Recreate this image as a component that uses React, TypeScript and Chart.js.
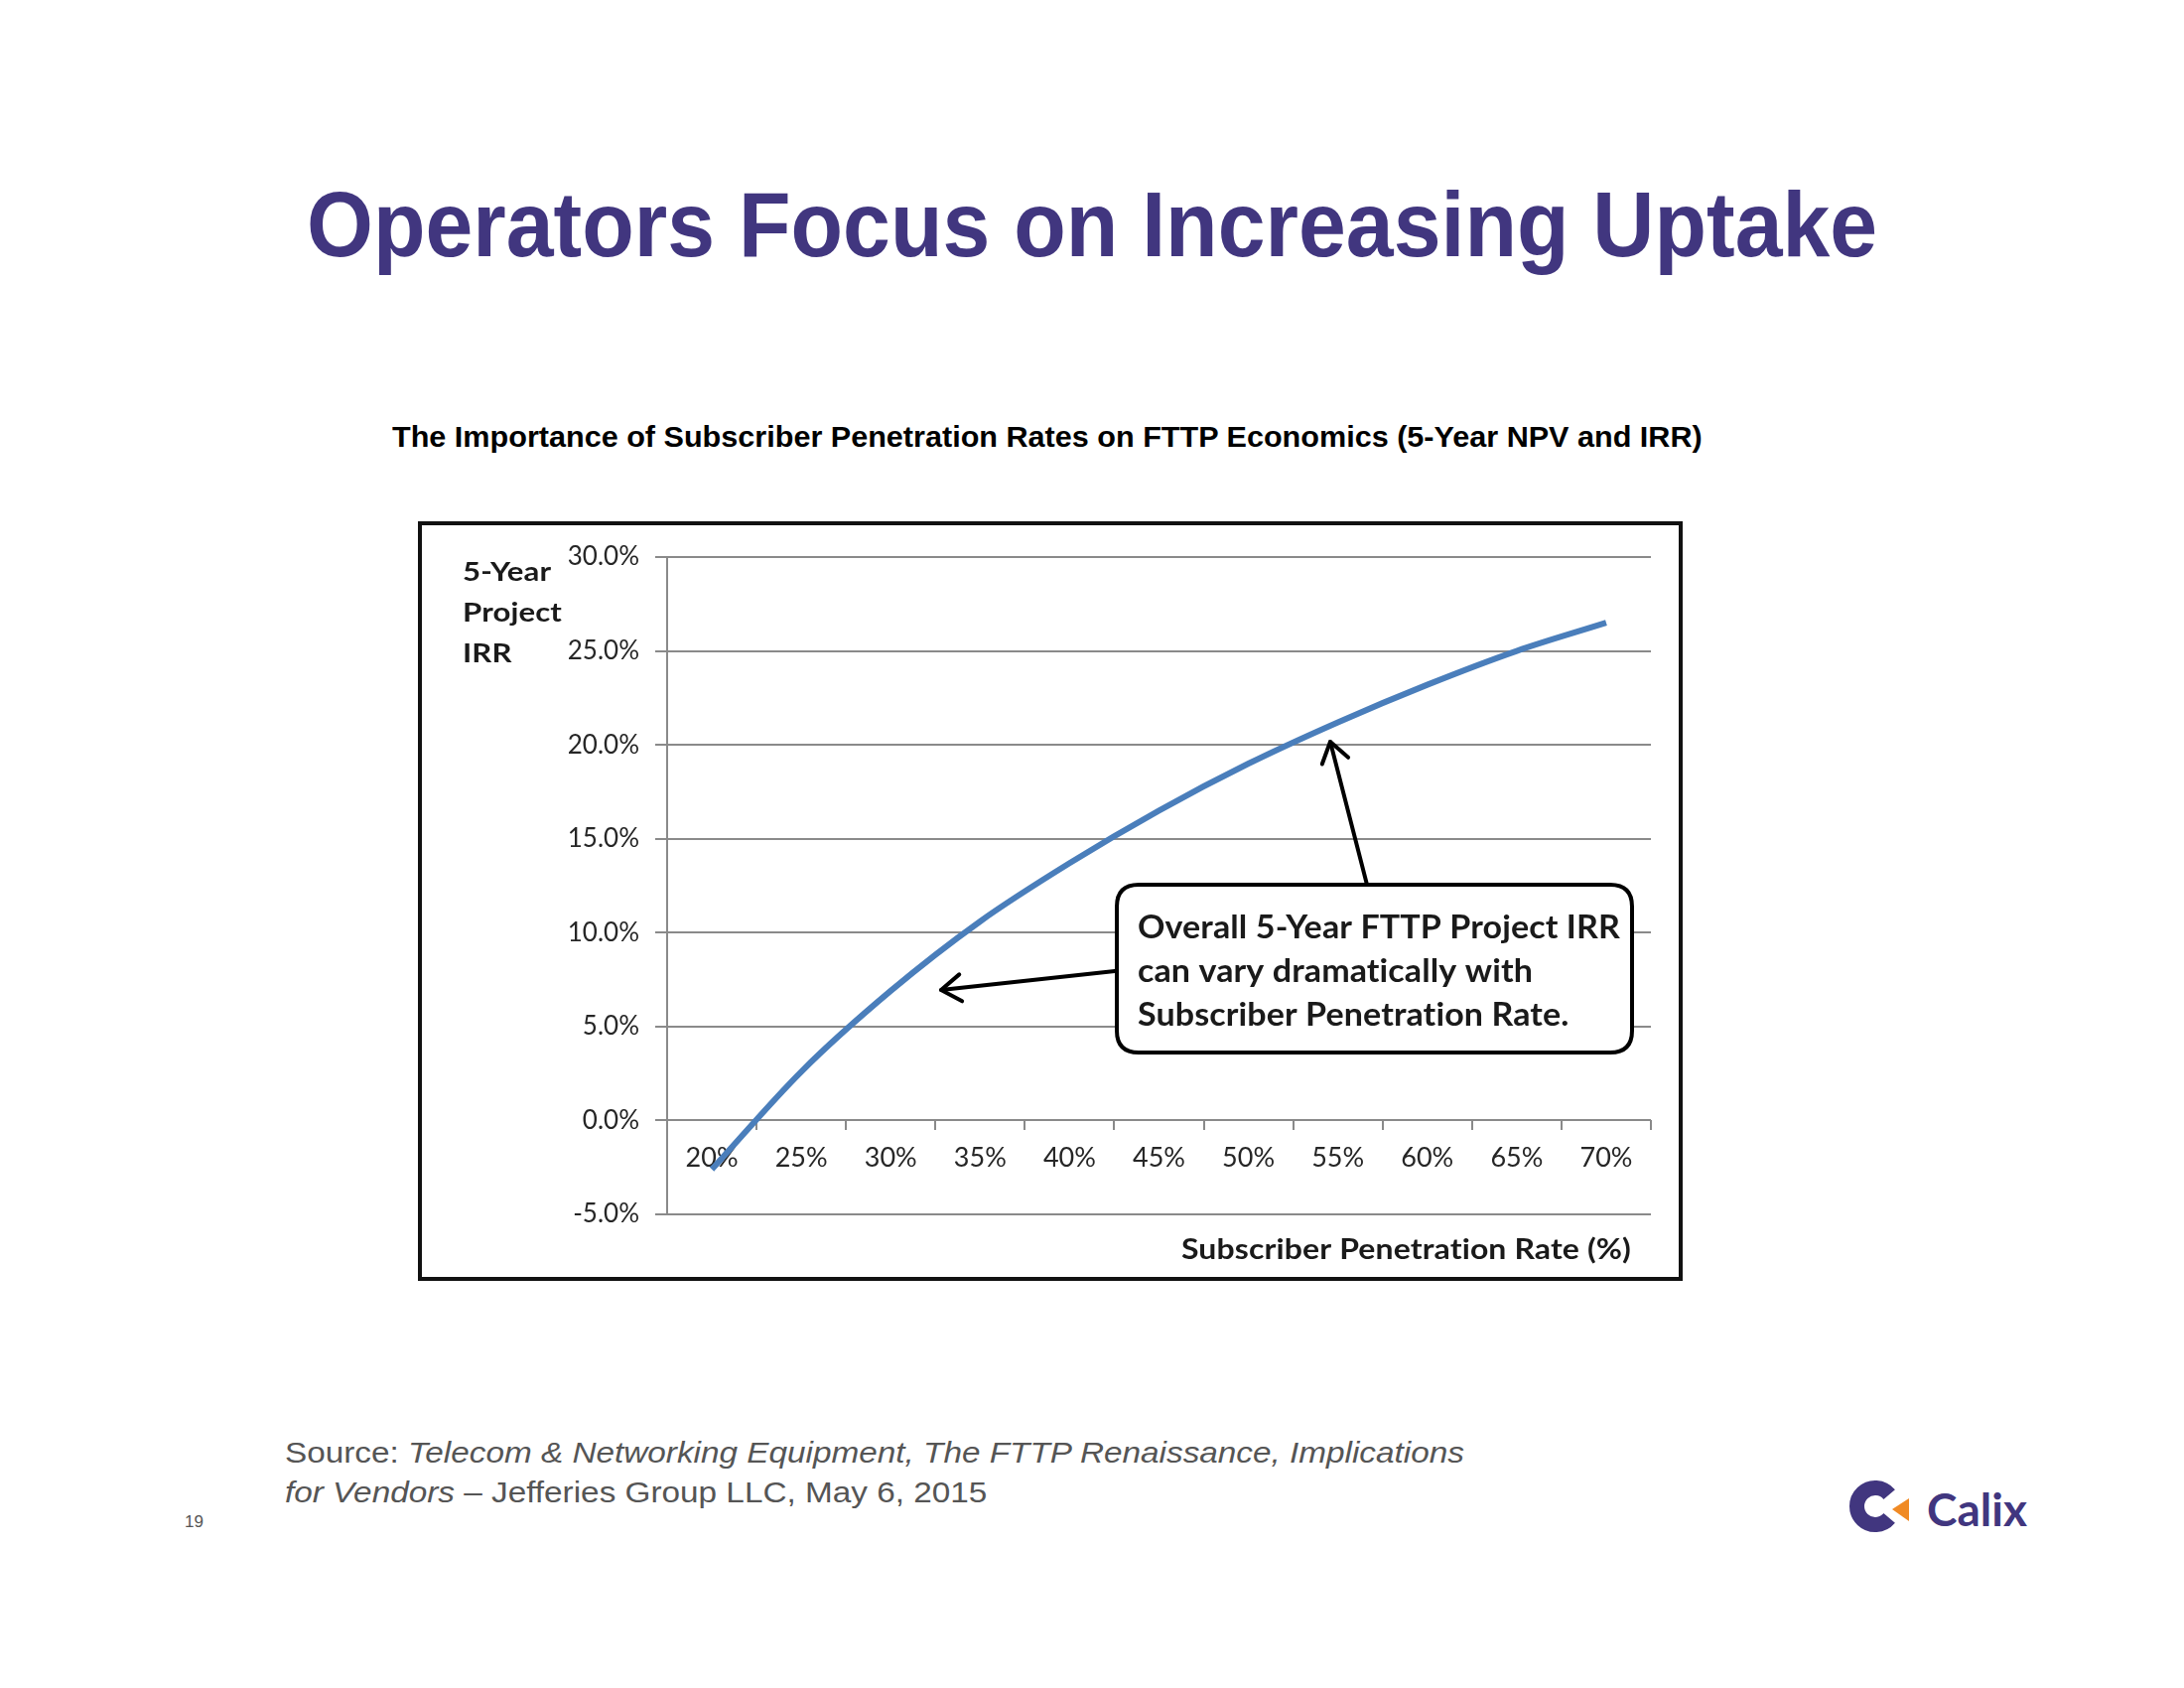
import React, { useEffect, useLayoutEffect, useRef } from 'react';
import { Chart, registerables } from 'chart.js';

Chart.register(...registerables);

// ---------- data ----------
const categories = ['20%', '25%', '30%', '35%', '40%', '45%', '50%', '55%', '60%', '65%', '70%'];
const irrValues = [-2.6, 2.6, 6.9, 10.6, 13.7, 16.5, 19.0, 21.2, 23.2, 25.0, 26.5];
const yMin = -5;
const yMax = 30;
const yStep = 5;
const yAxisTitleLines = ['5-Year', 'Project', 'IRR'];
const xAxisTitle = 'Subscriber Penetration Rate (%)';
const calloutLines = ['Overall 5-Year FTTP Project IRR', 'can vary dramatically with', 'Subscriber Penetration Rate.'];
const pageTitle = 'Operators Focus on Increasing Uptake';
const chartTitle = 'The Importance of Subscriber Penetration Rates on FTTP Economics (5-Year NPV and IRR)';

const PURPLE = '#41367F';
const CAL = 'Lato, "Open Sans", sans-serif';
const HEL = '"Liberation Sans", Arial, Helvetica, sans-serif';

function drawScaled(ctx: CanvasRenderingContext2D, text: string, x: number, y: number, s: number, align: 'left' | 'right') {
  const w = ctx.measureText(text).width;
  ctx.save();
  ctx.translate(x, y);
  ctx.scale(s, 1);
  ctx.textAlign = 'left';
  ctx.fillText(text, align === 'right' ? -w : 0, 0);
  ctx.restore();
}

function drawArrow(ctx: CanvasRenderingContext2D, x1: number, y1: number, x2: number, y2: number) {
  const ang = Math.atan2(y2 - y1, x2 - x1);
  const len = 24;
  const spread = 0.6;
  ctx.save();
  ctx.strokeStyle = '#000';
  ctx.lineWidth = 4;
  ctx.lineCap = 'round';
  ctx.lineJoin = 'round';
  ctx.beginPath();
  ctx.moveTo(x1, y1);
  ctx.lineTo(x2, y2);
  ctx.stroke();
  ctx.beginPath();
  ctx.moveTo(x2 - len * Math.cos(ang - spread), y2 - len * Math.sin(ang - spread));
  ctx.lineTo(x2, y2);
  ctx.lineTo(x2 - len * Math.cos(ang + spread), y2 - len * Math.sin(ang + spread));
  ctx.stroke();
  ctx.restore();
}

const annotationPlugin = {
  id: 'irrAnnotations',
  afterDraw(chart: any) {
    const ctx: CanvasRenderingContext2D = chart.ctx;
    ctx.save();
    (ctx as any).letterSpacing = '0.1px';
    ctx.fillStyle = '#1a1a1a';
    ctx.textBaseline = 'alphabetic';

    // y-axis title
    ctx.font = `bold 26px ${CAL}`;
    const sY = 100 / ctx.measureText('Project').width;
    yAxisTitleLines.forEach((t, i) => drawScaled(ctx, t, 41, 56 + i * 41, sY, 'left'));

    // x-axis title
    ctx.font = `bold 28px ${CAL}`;
    const sX = 453 / ctx.measureText(xAxisTitle).width;
    drawScaled(ctx, xAxisTitle, 1218, 739, sX, 'right');

    // arrows
    drawArrow(ctx, 952, 362, 915, 218);
    drawArrow(ctx, 698, 449, 523, 468);

    // callout box
    const bx = 700, by = 362, bw = 519, bh = 169, r = 22;
    ctx.beginPath();
    ctx.moveTo(bx + r, by);
    ctx.lineTo(bx + bw - r, by);
    ctx.quadraticCurveTo(bx + bw, by, bx + bw, by + r);
    ctx.lineTo(bx + bw, by + bh - r);
    ctx.quadraticCurveTo(bx + bw, by + bh, bx + bw - r, by + bh);
    ctx.lineTo(bx + r, by + bh);
    ctx.quadraticCurveTo(bx, by + bh, bx, by + bh - r);
    ctx.lineTo(bx, by + r);
    ctx.quadraticCurveTo(bx, by, bx + r, by);
    ctx.closePath();
    ctx.fillStyle = '#fff';
    ctx.fill();
    ctx.lineWidth = 4;
    ctx.strokeStyle = '#000';
    ctx.stroke();

    ctx.fillStyle = '#1a1a1a';
    ctx.font = `bold 32px ${CAL}`;
    const sC = 486 / ctx.measureText(calloutLines[0]).width;
    calloutLines.forEach((t, i) => drawScaled(ctx, t, 721, 416 + i * 44, sC, 'left'));
    ctx.restore();
  },
};

function IrrChart() {
  const ref = useRef<HTMLCanvasElement>(null);
  useEffect(() => {
    if (!ref.current) return;
    const chart = new Chart(ref.current, {
      type: 'line',
      data: {
        labels: categories,
        datasets: [
          {
            label: '5-Year Project IRR',
            data: irrValues,
            borderColor: '#4A7EBB',
            backgroundColor: '#4A7EBB',
            borderWidth: 6,
            pointRadius: 0,
            cubicInterpolationMode: 'monotone',
            fill: false,
          },
        ],
      },
      options: {
        responsive: false,
        animation: false,
        layout: { padding: { left: 0, top: 32, right: 28, bottom: 63 } },
        plugins: { legend: { display: false }, tooltip: { enabled: false }, title: { display: false } },
        scales: {
          y: {
            type: 'linear',
            min: yMin,
            max: yMax,
            afterFit: (s: any) => {
              s.width = 247;
            },
            ticks: {
              stepSize: yStep,
              padding: 16,
              color: '#262626',
              font: { family: CAL, size: 26 },
              callback: (v: any) => Number(v).toFixed(1) + '%',
            },
            grid: { color: '#8a8a8a', lineWidth: 2, tickLength: 12, drawTicks: true },
            border: { display: true, color: '#8a8a8a', width: 2 },
          },
          x: {
            type: 'category',
            position: { y: 0 } as any,
            offset: true,
            ticks: {
              padding: 12,
              color: '#262626',
              font: { family: CAL, size: 27 },
              maxRotation: 0,
              autoSkip: false,
            },
            grid: { offset: true, drawOnChartArea: false, drawTicks: true, tickLength: 10, color: '#8a8a8a', lineWidth: 2 },
            border: { display: false },
          },
        },
      },
      plugins: [annotationPlugin],
    } as any);
    let alive = true;
    if ((document as any).fonts?.ready) {
      (document as any).fonts.ready.then(() => {
        if (alive) chart.update();
      });
    }
    return () => {
      alive = false;
      chart.destroy();
    };
  }, []);
  return <canvas ref={ref} width={1266} height={757} style={{ position: 'absolute', left: 0, top: 0, width: 1266, height: 757 }} />;
}

function FitLine(props: {
  left: number;
  top: number;
  width: number;
  centered?: boolean;
  fontSize: number;
  fontFamily: string;
  fontWeight?: string | number;
  color: string;
  children: React.ReactNode;
}) {
  const ref = useRef<HTMLSpanElement>(null);
  useLayoutEffect(() => {
    const fit = () => {
      const el = ref.current;
      if (!el) return;
      const w = el.offsetWidth;
      if (w > 0) el.style.transform = `scaleX(${props.width / w})`;
    };
    fit();
    (document as any).fonts?.ready?.then(fit);
  }, []);
  const x = props.centered ? props.left - props.width / 2 : props.left;
  return (
    <div
      style={{
        position: 'absolute',
        left: x,
        top: props.top,
        whiteSpace: 'nowrap',
        fontSize: props.fontSize,
        lineHeight: 1,
        fontFamily: props.fontFamily,
        fontWeight: props.fontWeight ?? 'normal',
        color: props.color,
      }}
    >
      <span ref={ref} style={{ display: 'inline-block', transformOrigin: '0 0' }}>
        {props.children}
      </span>
    </div>
  );
}

function SourceBlock() {
  const l1 = useRef<HTMLSpanElement>(null);
  const l2 = useRef<HTMLSpanElement>(null);
  useLayoutEffect(() => {
    const fit = () => {
      if (!l1.current || !l2.current) return;
      const w = l1.current.offsetWidth;
      if (w > 0) {
        const s = 1188 / w;
        l1.current.style.transform = `scaleX(${s})`;
        l2.current.style.transform = `scaleX(${s})`;
      }
    };
    fit();
    (document as any).fonts?.ready?.then(fit);
  }, []);
  const base: React.CSSProperties = {
    position: 'absolute',
    left: 287,
    whiteSpace: 'nowrap',
    fontSize: 30,
    lineHeight: 1,
    fontFamily: HEL,
    color: '#555555',
  };
  const span: React.CSSProperties = { display: 'inline-block', transformOrigin: '0 0' };
  return (
    <>
      <div style={{ ...base, top: 1448 }}>
        <span ref={l1} style={span}>
          Source: <i>Telecom &amp; Networking Equipment, The FTTP Renaissance, Implications</i>
        </span>
      </div>
      <div style={{ ...base, top: 1488 }}>
        <span ref={l2} style={span}>
          <i>for Vendors</i> – Jefferies Group LLC, May 6, 2015
        </span>
      </div>
    </>
  );
}

function CalixLogo() {
  const cx = 27, cy = 29, r = 18.5;
  const a = (40 * Math.PI) / 180;
  const sx = cx + r * Math.cos(a);
  const syTop = cy - r * Math.sin(a);
  const syBot = cy + r * Math.sin(a);
  return (
    <>
      <svg style={{ position: 'absolute', left: 1862, top: 1488 }} width={66} height={60} viewBox="0 0 66 60">
        <path
          d={`M ${sx} ${syTop} A ${r} ${r} 0 1 0 ${sx} ${syBot}`}
          fill="none"
          stroke={PURPLE}
          strokeWidth={15}
          strokeLinecap="butt"
        />
        <polygon points="61,21 61,44 44,32" fill="#F08A24" />
      </svg>
      <div
        style={{
          position: 'absolute',
          left: 1941,
          top: 1497,
          fontFamily: CAL,
          fontWeight: 700,
          fontSize: 46,
          lineHeight: 1,
          color: PURPLE,
          whiteSpace: 'nowrap',
        }}
      >
        Calix
      </div>
    </>
  );
}

export default function App() {
  return (
    <div style={{ position: 'fixed', left: 0, top: 0, width: 2200, height: 1700, background: '#fff', overflow: 'hidden' }}>
      <FitLine left={1100} centered top={180} width={1582} fontSize={92} fontFamily={HEL} fontWeight={700} color={PURPLE}>
        {pageTitle}
      </FitLine>
      <FitLine left={395} top={425} width={1320} fontSize={30} fontFamily={HEL} fontWeight={700} color="#000">
        {chartTitle}
      </FitLine>
      <div
        style={{
          position: 'absolute',
          left: 421,
          top: 525,
          width: 1274,
          height: 765,
          border: '4px solid #111',
          boxSizing: 'border-box',
          background: '#fff',
        }}
      >
        <IrrChart />
      </div>
      <SourceBlock />
      <div style={{ position: 'absolute', left: 186, top: 1524, fontFamily: HEL, fontSize: 17, lineHeight: 1, color: '#555' }}>19</div>
      <CalixLogo />
    </div>
  );
}
